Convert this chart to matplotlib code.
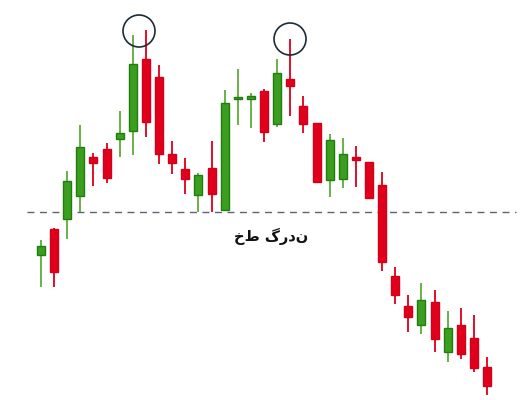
import matplotlib
matplotlib.use("Agg")
import matplotlib.pyplot as plt
from matplotlib.patches import Rectangle, Ellipse

opens  = [145,171,181,204,243,251,261,269,341,323,246,231,205,232,190,301,301,309,276,321,294,277,220,221,243,238,215,124,94,75,98,48,75,62,33]
highs  = [160,172,229,275,247,257,289,365,370,335,259,242,227,259,310,331,307,311,341,361,304,277,266,262,254,238,228,133,105,117,110,89,92,85,43]
lows   = [113,113,161,188,214,217,243,245,263,236,226,206,188,188,190,275,272,258,273,284,267,218,203,212,213,202,129,96,68,66,48,38,41,28,5]
closes = [154,128,219,253,237,222,267,336,278,246,237,221,225,206,297,303,304,268,327,314,276,218,260,246,240,202,138,105,83,100,61,72,46,32,14]
neckline = 188
neck_label = "خط گردن"
tops = [(7.47, 369), (18.98, 361)]

W, H = 523, 400
fig = plt.figure(figsize=(W/100, H/100), dpi=100)
ax = fig.add_axes([0, 0, 1, 1])
sp = 13.12
ax.set_xlim(-41/sp, (W-41)/sp)
ax.set_ylim(0, 400)
ax.axis('off')

bw = 8/sp
for i, (o, h, l, c) in enumerate(zip(opens, highs, lows, closes)):
    up = c >= o
    wick = '#6ab04a' if up else '#e0102a'
    face = '#3c9e1e' if up else '#e0001b'
    edge = '#1f7f0e' if up else '#d4001a'
    ax.plot([i, i], [l, h], color=wick, lw=1.4, solid_capstyle='butt', zorder=1)
    lo = min(o, c); ht = max(abs(c - o), 2.5)
    ax.add_patch(Rectangle((i - bw/2, lo), bw, ht, facecolor=face, edgecolor=edge, lw=1.0, zorder=2))

ax.plot([(27-41)/sp, (516-41)/sp], [neckline, neckline], color='#5a6472', lw=1.0,
        dashes=(5, 4), zorder=0)
ax.text((271-41)/sp, 400-236, neck_label, fontsize=10.5, fontweight='bold', ha='center', va='center',
        family=['DejaVu Sans'], color='#111111')

for (cx, cy) in tops:
    ax.add_patch(Ellipse((cx, cy), 32/sp, 32, fill=False, edgecolor='#1c2b3a', lw=1.2, zorder=3))

fig.savefig('out.png', dpi=100, facecolor='white')
